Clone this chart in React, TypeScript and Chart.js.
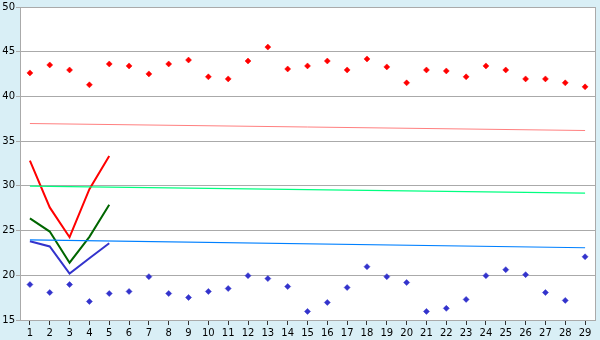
import React, { useEffect, useRef } from "react";
import { Chart, registerables } from "chart.js";

Chart.register(...registerables);

const categories = Array.from({ length: 29 }, (_, i) => String(i + 1));

const redPoints = [42.63, 43.52, 42.96, 41.3, 43.63, 43.41, 42.52, 43.63, 44.07, 42.19, 41.96, 43.96, 45.52, 43.07, 43.41, 43.96, 42.96, 44.19, 43.3, 41.52, 42.96, 42.85, 42.19, 43.41, 42.96, 41.96, 41.96, 41.52, 41.07];
const bluePoints = [18.96, 18.07, 18.96, 17.07, 17.96, 18.19, 19.85, 17.96, 17.52, 18.19, 18.52, 19.96, 19.63, 18.74, 15.96, 16.96, 18.63, 20.96, 19.85, 19.19, 15.96, 16.3, 17.3, 19.96, 20.63, 20.07, 18.07, 17.19, 22.07];

const redLine = [32.81, 27.59, 24.26, 29.63, 33.33];
const greenLine = [26.37, 24.89, 21.41, 24.3, 27.89];
const blueLine = [23.81, 23.22, 20.19, 21.9, 23.59];

const pinkTrend = [{ x: "1", y: 36.97 }, { x: "29", y: 36.19 }];
const greenTrend = [{ x: "1", y: 29.96 }, { x: "29", y: 29.19 }];
const blueTrend = [{ x: "1", y: 23.97 }, { x: "29", y: 23.08 }];

const yTicks = [15, 20, 25, 30, 35, 40, 45, 50];

const bgPlugin = {
  id: "bgPlugin",
  beforeDraw(chart: any) {
    const { ctx, chartArea: a, width, height } = chart;
    ctx.save();
    ctx.fillStyle = "#D9EFF6";
    ctx.fillRect(0, 0, width, height);
    ctx.fillStyle = "#FFFFFF";
    ctx.fillRect(a.left, a.top, a.right - a.left, a.bottom - a.top);
    ctx.restore();
  },
  afterDraw(chart: any) {
    const { ctx, chartArea: a } = chart;
    ctx.save();
    ctx.strokeStyle = "#AAAAAA";
    ctx.lineWidth = 1;
    ctx.beginPath();
    ctx.moveTo(Math.round(a.right) + 0.5, a.top);
    ctx.lineTo(Math.round(a.right) + 0.5, a.bottom);
    ctx.stroke();
    ctx.restore();
  },
};

export default function App() {
  const ref = useRef<HTMLCanvasElement | null>(null);
  useEffect(() => {
    if (!ref.current) return;
    const chart = new Chart(ref.current, {
      type: "line",
      data: {
        labels: categories,
        datasets: [
          { data: pinkTrend, borderColor: "#FF8080", borderWidth: 1, pointRadius: 0, fill: false },
          { data: greenTrend, borderColor: "#00FF80", borderWidth: 1.2, pointRadius: 0, fill: false },
          { data: blueTrend, borderColor: "#0080FF", borderWidth: 1.2, pointRadius: 0, fill: false },
          { data: redLine, borderColor: "#FF0000", borderWidth: 2, pointRadius: 0, fill: false },
          { data: greenLine, borderColor: "#006600", borderWidth: 2, pointRadius: 0, fill: false },
          { data: blueLine, borderColor: "#3333CC", borderWidth: 2, pointRadius: 0, fill: false },
          { data: redPoints, showLine: false, pointStyle: "rectRot", pointRadius: 3, pointBackgroundColor: "#FF0000", pointBorderColor: "#FF0000", pointBorderWidth: 0.5 },
          { data: bluePoints, showLine: false, pointStyle: "rectRot", pointRadius: 3, pointBackgroundColor: "#3333CC", pointBorderColor: "#3333CC", pointBorderWidth: 0.5 },
        ],
      },
      options: {
        animation: false,
        responsive: false,
        layout: { padding: { top: 5, right: 5, left: 0, bottom: 0 } },
        plugins: { legend: { display: false }, tooltip: { enabled: false } },
        scales: {
          x: {
            type: "category",
            offset: true,
            grid: { drawOnChartArea: false, drawTicks: true, tickLength: 5, color: "#333333", offset: false },
            border: { display: true, color: "#AAAAAA" },
            ticks: { color: "#000000", font: { family: "DejaVu Sans", size: 10 }, padding: 2, autoSkip: false, maxRotation: 0 },
            afterFit: (s: any) => { s.height = 20; },
          },
          y: {
            min: 15,
            max: 50,
            afterBuildTicks: (s: any) => { s.ticks = yTicks.map((v) => ({ value: v })); },
            grid: { color: "#AAAAAA", drawTicks: true, tickLength: 4 },
            border: { display: true, color: "#AAAAAA" },
            ticks: { color: "#000000", font: { family: "DejaVu Sans", size: 10 }, padding: 1 },
            afterFit: (s: any) => { s.width = 20; },
          },
        },
      },
      plugins: [bgPlugin],
    });
    return () => chart.destroy();
  }, []);
  return (
    <div style={{ position: "absolute", left: 0, top: 0, width: 600, height: 340 }}>
      <canvas ref={ref} width={600} height={340} style={{ display: "block" }} />
    </div>
  );
}
